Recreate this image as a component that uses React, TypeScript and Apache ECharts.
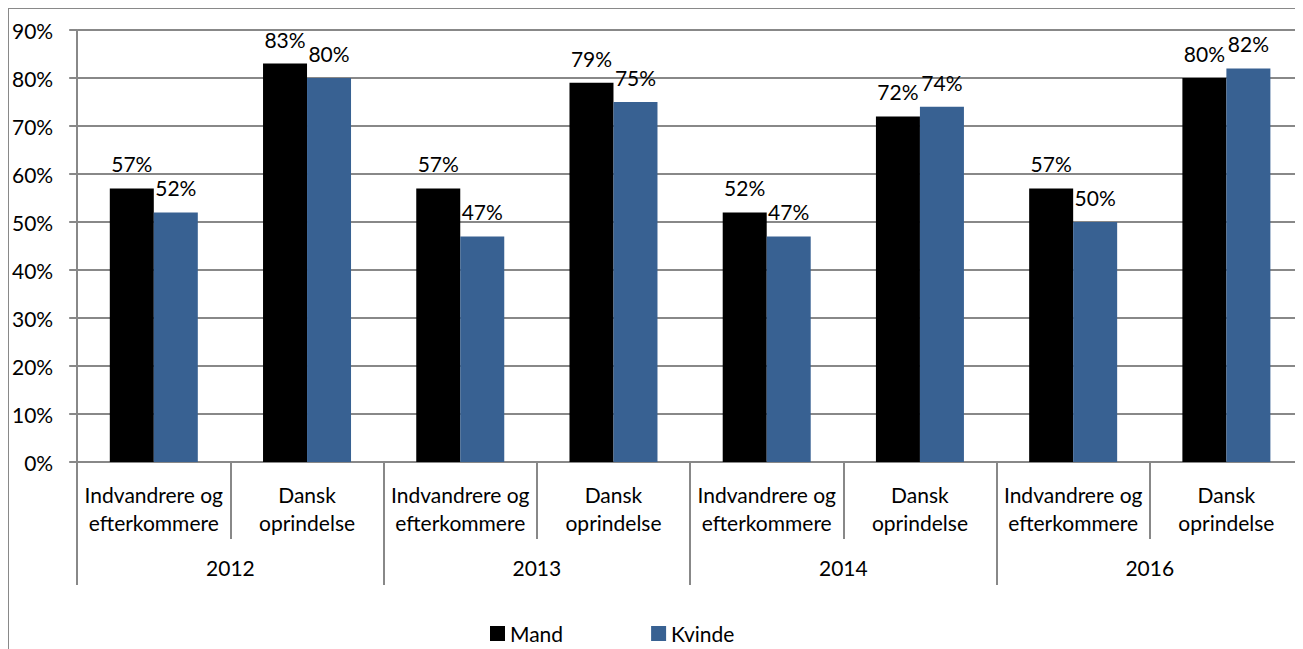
import React, { useEffect, useRef } from "react";
import * as echarts from "echarts";

const years = ["2012", "2013", "2014", "2016"];
const groups = ["Indvandrere og\nefterkommere", "Dansk\noprindelse"];
const categories = years.flatMap(() => groups);
const mand = [57, 83, 57, 79, 52, 72, 57, 80];
const kvinde = [52, 80, 47, 75, 47, 74, 50, 82];
const yTicks = [0, 10, 20, 30, 40, 50, 60, 70, 80, 90];

const FONT = "Lato";
const FS = 21;
const GRAY = "#888888";

export default function App() {
  const ref = useRef<HTMLDivElement>(null);
  useEffect(() => {
    if (!ref.current) return;
    const chart = echarts.init(ref.current, undefined, { renderer: "svg" });
    const labelStyle = {
      show: true,
      position: "top" as const,
      distance: 14,
      formatter: "{c}%",
      color: "#000",
      fontFamily: FONT,
      fontSize: FS,
    };
    chart.setOption({
      animation: false,
      textStyle: { fontFamily: FONT },
      grid: { left: 68, top: 21, width: 1228, height: 432 },
      legend: {
        left: 476,
        top: 609,
        itemWidth: 15,
        itemHeight: 15,
        itemGap: 88,
        icon: "rect",
        textStyle: { fontFamily: FONT, fontSize: FS, color: "#000" },
        data: ["Mand", "Kvinde"],
      },
      xAxis: [
        {
          type: "category",
          data: categories,
          position: "bottom",
          axisLine: { show: true, lineStyle: { color: GRAY, width: 2 } },
          axisTick: { show: true, length: 77, lineStyle: { color: GRAY, width: 2 } },
          axisLabel: {
            interval: 0,
            margin: 18,
            color: "#000",
            fontFamily: FONT,
            fontSize: FS,
            lineHeight: 28,
          },
        },
        {
          type: "category",
          data: years,
          position: "bottom",
          axisLine: { show: false },
          axisTick: { show: true, length: 123, lineStyle: { color: GRAY, width: 2 } },
          axisLabel: {
            interval: 0,
            margin: 95,
            color: "#000",
            fontFamily: FONT,
            fontSize: FS,
          },
        },
      ],
      yAxis: {
        type: "value",
        min: yTicks[0],
        max: yTicks[yTicks.length - 1],
        interval: 10,
        axisLine: { show: true, lineStyle: { color: GRAY, width: 2 } },
        axisTick: { show: true, length: 8, lineStyle: { color: GRAY, width: 2 } },
        splitLine: { show: true, lineStyle: { color: GRAY, width: 2 } },
        axisLabel: {
          formatter: "{value}%",
          margin: 24,
          color: "#000",
          fontFamily: FONT,
          fontSize: FS,
        },
      },
      series: [
        {
          name: "Mand",
          type: "bar",
          data: mand,
          barWidth: 44,
          barGap: "0%",
          itemStyle: { color: "#000000" },
          label: labelStyle,
        },
        {
          name: "Kvinde",
          type: "bar",
          data: kvinde,
          barWidth: 44,
          barGap: "0%",
          itemStyle: { color: "#386192" },
          label: labelStyle,
        },
      ],
    });
    return () => chart.dispose();
  }, []);
  return (
    <div
      style={{
        width: 1294,
        height: 640,
        borderTop: "1px solid #898989",
        borderLeft: "1px solid #898989",
        overflow: "hidden",
        background: "#fff",
      }}
    >
      <div ref={ref} style={{ width: 1294, height: 640 }} />
    </div>
  );
}
